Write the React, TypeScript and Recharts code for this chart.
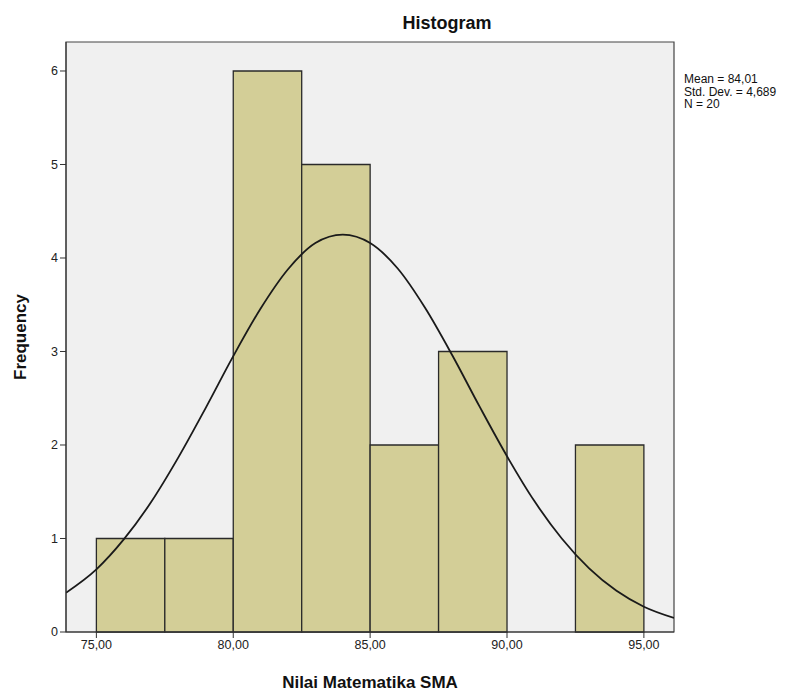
import { ComposedChart, Line, XAxis, YAxis, ReferenceArea, Label } from "recharts";

// histogram bins (Nilai Matematika SMA)
const binEdges = [75, 77.5, 80, 82.5, 85, 87.5, 90, 92.5, 95];
const binCounts = [1, 1, 6, 5, 2, 3, 0, 2];

// normal curve
const curveX = [73.89, 75, 76, 77, 78, 79, 80, 81, 82, 83, 84, 85, 86, 87, 88, 89, 90, 91, 92, 93, 94, 95, 96.1];
const curveY = [0.42, 0.67, 0.99, 1.39, 1.87, 2.4, 2.95, 3.46, 3.88, 4.16, 4.25, 4.16, 3.89, 3.47, 2.96, 2.41, 1.88, 1.4, 1.0, 0.68, 0.44, 0.27, 0.15];

const xTicks = [75, 80, 85, 90, 95];
const yTicks = [0, 1, 2, 3, 4, 5, 6];

const stats = ["Mean = 84,01", "Std. Dev. = 4,689", "N = 20"];

const X_MIN = 73.89;
const X_MAX = 96.1;
const Y_MAX = 6.31;

const FONT = "'Liberation Sans', Arial, sans-serif";

export default function App() {
  const data = curveX.map((x, i) => ({ x, y: curveY[i] }));

  return (
    <div style={{ position: "absolute", left: 0, top: 0, width: 808, height: 693, background: "#fff", fontFamily: FONT }}>
      <div
        style={{
          position: "absolute",
          left: 347,
          width: 200,
          top: 13,
          textAlign: "center",
          fontSize: 18,
          fontWeight: "bold",
          color: "#111",
        }}
      >
        Histogram
      </div>
      <div style={{ position: "absolute", left: 684, top: 73, fontSize: 12, lineHeight: "12.5px", color: "#111" }}>
        {stats.map((s) => (
          <div key={s}>{s}</div>
        ))}
      </div>
      <ComposedChart
        width={808}
        height={693}
        data={data}
        margin={{ top: 42, right: 134, left: 10, bottom: 0 }}
      >
        <XAxis
          dataKey="x"
          type="number"
          domain={[X_MIN, X_MAX]}
          ticks={xTicks}
          allowDataOverflow
          height={61}
          tickSize={6}
          axisLine={{ stroke: "#333" }}
          tickLine={{ stroke: "#333" }}
          tick={{ fill: "#222", fontSize: 12.5, fontFamily: FONT }}
          tickFormatter={(v: number) => v.toFixed(2).replace(".", ",")}
        >
          <Label
            value="Nilai Matematika SMA"
            position="insideBottom"
            offset={5}
            style={{ fontSize: 17, fontWeight: "bold", fill: "#111", fontFamily: FONT }}
          />
        </XAxis>
        <YAxis
          type="number"
          domain={[0, Y_MAX]}
          ticks={yTicks}
          allowDataOverflow
          width={56}
          tickSize={6}
          axisLine={{ stroke: "#333" }}
          tickLine={{ stroke: "#333" }}
          tick={{ fill: "#222", fontSize: 12.5, fontFamily: FONT }}
        >
          <Label
            value="Frequency"
            angle={-90}
            position="insideLeft"
            offset={10}
            style={{ fontSize: 17, fontWeight: "bold", fill: "#111", fontFamily: FONT, textAnchor: "middle" }}
          />
        </YAxis>
        {/* plot background + frame */}
        <ReferenceArea x1={X_MIN} x2={X_MAX} y1={0} y2={Y_MAX} fill="#f0f0f0" fillOpacity={1} stroke="#444" strokeWidth={1.2} />
        {binCounts.map((c, i) =>
          c > 0 ? (
            <ReferenceArea
              key={`bin-${i}`}
              x1={binEdges[i]}
              x2={binEdges[i + 1]}
              y1={0}
              y2={c}
              fill="#d3ce97"
              fillOpacity={1}
              stroke="#2a2a2a"
              strokeWidth={1.3}
            />
          ) : null
        )}
        <Line
          dataKey="y"
          type="monotone"
          stroke="#1a1a1a"
          strokeWidth={1.8}
          dot={false}
          isAnimationActive={false}
        />
      </ComposedChart>
    </div>
  );
}
